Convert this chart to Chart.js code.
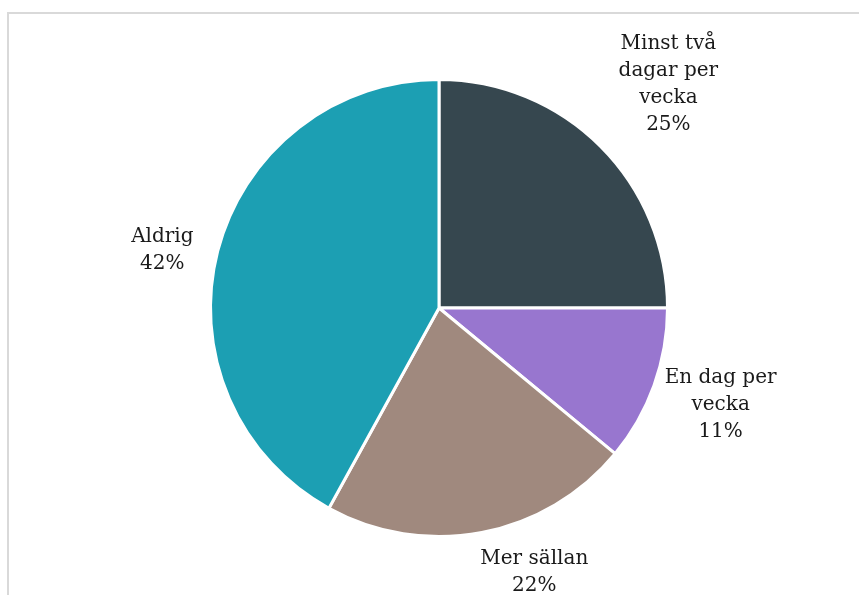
<!DOCTYPE html>
<html>
<head>
<meta charset="utf-8">
<script src="https://cdn.jsdelivr.net/npm/chart.js@4.4.1/dist/chart.umd.min.js"></script>
<style>
    html, body { margin: 0; padding: 0; background: #fff; overflow: hidden; }
    #wrap { position: relative; width: 859px; height: 595px; }
    #frame { position: absolute; left: 7px; top: 12px; width: 900px; height: 700px; border: 2px solid #d9d9d9; box-sizing: border-box; }
    #ChartCanvas1 { position: absolute; left: 0; top: 0; }
</style>
</head>
<body>
<div id="wrap">
    <div id="frame"></div>
    <canvas id="ChartCanvas1" width="859" height="595"></canvas>
</div>
<script>
// chart data
const categories = [['Minst två', 'dagar per', 'vecka'], ['En dag per', 'vecka'], ['Mer sällan'], ['Aldrig']];
const shares = [25, 11, 22, 42];
const sliceColors = ['#36474f', '#9876cf', '#a0897e', '#1c9fb3'];

// outside labels, placed from each arc's own geometry
const outsideLabels = {
    id: 'outsideLabels',
    afterDatasetsDraw(chart, args, opts)
    {
        const ctx = chart.ctx;
        const meta = chart.getDatasetMeta(0);
        ctx.save();
        ctx.font = opts.font;
        ctx.fillStyle = opts.color;
        ctx.textAlign = 'center';
        ctx.textBaseline = 'middle';
        meta.data.forEach((arc, i) =>
        {
            const p = arc.getProps(['x', 'y', 'startAngle', 'endAngle', 'outerRadius'], true);
            const mid = (p.startAngle + p.endAngle) / 2;
            const dx = Math.cos(mid), dy = Math.sin(mid);
            const lines = [...categories[i], shares[i] + '%'];
            const w = Math.max(...lines.map(s => ctx.measureText(s).width));
            const h = lines.length * opts.lineHeight;
            const proj = Math.abs(dx) * w / 2 + Math.abs(dy) * h / 2;
            const d = p.outerRadius + opts.gap + proj;
            const nudge = opts.nudge[i] || [0, 0];
            const cx = p.x + dx * d + nudge[0];
            const cy = p.y + dy * d + nudge[1];
            lines.forEach((s, k) =>
            {
                ctx.fillText(s, cx, cy - h / 2 + opts.lineHeight * (k + 0.5));
            });
        });
        ctx.restore();
    }
};

const ctx = document.getElementById('ChartCanvas1').getContext('2d');
const chart = new Chart(ctx,
{
    type: 'pie',
    data: {
        labels: categories.map(c => c.join(' ')),
        datasets: [{
            data: shares,
            backgroundColor: sliceColors,
            borderColor: '#ffffff',
            borderWidth: 3
        }]
    },
    options: {
        responsive: false,
        animation: false,
        rotation: 0,
        layout: {
            padding: { left: 209, right: 190, top: 78, bottom: 57 }
        },
        plugins: {
            legend: { display: false },
            tooltip: { enabled: false },
            outsideLabels: {
                font: '20px "DejaVu Serif", "Liberation Serif", serif',
                color: '#1a1a1a',
                lineHeight: 27,
                gap: 14,
                nudge: [[6, 0], [-9, -8], [43, -10], [-6, 12]]
            }
        }
    },
    plugins: [outsideLabels]
});
</script>
</body>
</html>
